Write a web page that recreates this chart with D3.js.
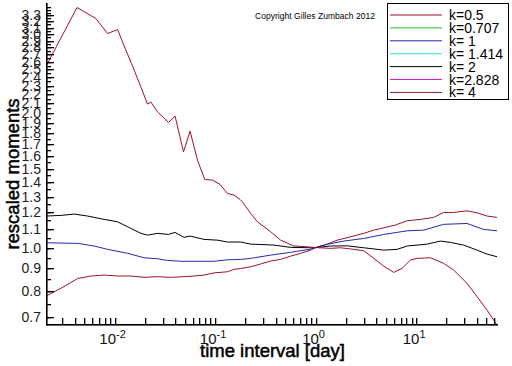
<!DOCTYPE html>
<html><head><meta charset="utf-8">
<script src="https://cdn.jsdelivr.net/npm/d3@7"></script>
<style>
body{margin:0;background:#fff;}
svg{display:block;font-family:"Liberation Sans",Arial,sans-serif;}
</style></head>
<body>
<script>
// ---- data ----
const legendLabels = ["k=0.5","k=0.707","k= 1","k= 1.414","k= 2","k=2.828","k= 4"];
const legendColors = ["#a0102e","#20c020","#2828b0","#30e0e0","#000000","#d020d0","#a0102e"];

const t_k05 = [0.00208,0.00293,0.0043,0.00582,0.00789,0.0107,0.0145,0.0197,0.0268,0.0363,0.0492,0.0618,0.0777,0.0977,0.1327,0.1543,0.18,0.226,0.284,0.357,0.449,0.565,0.71,0.892,1,1.307,1.643,2.227,3.018,3.795,4.77,6.23,8.15,11.04,14.96,18.8,23.6,32.1,40.4,50.8,63.8];
const v_k05 = [0.779,0.811,0.853,0.864,0.868,0.864,0.864,0.858,0.861,0.858,0.861,0.864,0.868,0.878,0.883,0.894,0.898,0.906,0.919,0.933,0.941,0.957,0.971,0.987,1.0,1.018,1.039,1.057,1.076,1.094,1.107,1.123,1.148,1.156,1.168,1.198,1.198,1.208,1.196,1.176,1.168];

const t_k1 = [0.00208,0.0043,0.00628,0.00853,0.01348,0.0197,0.0268,0.03365,0.0456,0.0618,0.0977,0.1327,0.18,0.226,0.357,0.565,0.892,1,1.307,1.91,3.018,4.77,8.15,11.9,18.8,32.1,46.9,63.8];
const v_k1 = [1.025,1.022,1.008,0.991,0.971,0.949,0.944,0.936,0.932,0.932,0.932,0.939,0.941,0.946,0.962,0.976,0.992,1.0,1.017,1.034,1.048,1.070,1.090,1.094,1.127,1.132,1.098,1.090];

const t_k2 = [0.00208,0.00293,0.00397,0.0054,0.00789,0.0107,0.0145,0.01827,0.02129,0.0268,0.0344,0.04,0.0492,0.0564,0.0777,0.1056,0.1327,0.18,0.226,0.385,0.565,0.892,1,1.41,2.065,3.018,4.77,6.48,8.15,12.87,17.45,21.93,29.7,40.4,50.8,63.8];
const v_k2 = [1.176,1.180,1.188,1.176,1.156,1.142,1.104,1.076,1.066,1.076,1.070,1.081,1.054,1.061,1.043,1.039,1.029,1.029,1.018,1.013,1.001,0.999,1.0,1.008,1.009,0.999,0.987,0.991,1.008,1.018,1.034,1.027,1.013,0.987,0.967,0.954];

const t_k4 = [0.00208,0.00423,0.00653,0.00853,0.01072,0.01297,0.01476,0.01827,0.02129,0.02296,0.02679,0.03443,0.04,0.04853,0.05637,0.06683,0.0789,0.0942,0.112,0.1327,0.1543,0.177,0.187,0.2262,0.2636,0.3573,0.449,0.6087,0.827,1,1.41,1.771,2.402,3.018,3.795,4.77,5.99,7.26,8.78,10.24,13.87,18.8,23.6,32.1,40.4,50.8,63.8];
const v_k4 = [2.541,3.437,3.248,3.007,3.069,2.760,2.577,2.285,2.091,2.115,2.010,1.903,1.966,1.636,1.820,1.568,1.420,1.415,1.384,1.321,1.310,1.281,1.265,1.192,1.142,1.085,1.039,1.008,1.004,1.0,0.996,0.999,0.991,0.984,0.946,0.909,0.880,0.899,0.938,0.946,0.949,0.922,0.891,0.832,0.777,0.725,0.671];

const plotted = [
  {t:t_k05, v:v_k05, color:legendColors[0]},
  {t:t_k1,  v:v_k1,  color:legendColors[2]},
  {t:t_k2,  v:v_k2,  color:legendColors[4]},
  {t:t_k4,  v:v_k4,  color:legendColors[6]}
];

const yTickValues = d3.range(7, 34).map(d => d / 10);
const yMinorValues = d3.range(14, 70).map(d => d / 20);
const xDecades = [-2, -1, 0, 1];

// ---- layout ----
const W = 512, H = 366;
const L = 46, R = 497, T = 4, B = 324;

const x = d3.scaleLog().domain([0.00208, 63.8]).range([L, R]);
const y = d3.scaleLog().domain([0.675, 3.5]).range([B, T]);

const svg = d3.select("body").append("svg").attr("width", W).attr("height", H);

// lines
const line = d3.line().x(d => x(d[0])).y(d => y(d[1]));
svg.append("clipPath").attr("id", "plotclip").append("rect")
  .attr("x", L).attr("y", 0).attr("width", R - L + 1).attr("height", B + 1);
const g = svg.append("g").attr("clip-path", "url(#plotclip)");
plotted.forEach(s => {
  g.append("path")
    .datum(s.t.map((tt, i) => [tt, s.v[i]]))
    .attr("d", line)
    .attr("fill", "none")
    .attr("stroke", s.color)
    .attr("stroke-width", 1);
});

// tick marks (pointing inward)
const xMinor = [];
for (let e = -3; e <= 1; e++) for (let m = 1; m <= 9; m++) {
  const v = m * Math.pow(10, e);
  if (v > 0.0021 && v <= 63.8) xMinor.push(v);
}
const tk = svg.append("g");
xMinor.forEach(d => {
  const px = Math.round(x(d));
  tk.append("rect").attr("x", px).attr("y", B - 6).attr("width", 1.3).attr("height", 6).attr("fill", "#000");
});
yMinorValues.forEach(d => {
  const py = Math.round(y(d));
  tk.append("rect").attr("x", L).attr("y", py).attr("width", 5).attr("height", 1.3).attr("fill", "#000");
});
yTickValues.forEach(d => {
  const py = Math.round(y(d));
  tk.append("rect").attr("x", L).attr("y", py).attr("width", 8).attr("height", 1.3).attr("fill", "#000");
});

// axis lines
svg.append("rect").attr("x", L).attr("y", T - 1).attr("width", 1.6).attr("height", B - T + 2.5).attr("fill", "#000");
svg.append("rect").attr("x", L).attr("y", B).attr("width", R - L + 1).attr("height", 1.6).attr("fill", "#000");

// x tick labels 10^n
xDecades.forEach(e => {
  const tx = svg.append("text")
    .attr("x", x(Math.pow(10, e)) - 2)
    .attr("y", 344)
    .attr("text-anchor", "middle")
    .attr("font-size", 15)
    .attr("fill", "#111");
  tx.append("tspan").text("10");
  tx.append("tspan").attr("dy", -6).attr("font-size", 11).text(e < 0 ? "-" + (-e) : String(e));
});

// y tick labels
svg.append("g").selectAll("text").data(yTickValues).join("text")
  .attr("x", 41).attr("y", d => y(d) + 5)
  .attr("text-anchor", "end")
  .attr("font-size", 14)
  .attr("fill", "#222")
  .text(d => d.toFixed(1));

// axis titles
svg.append("text")
  .attr("x", (L + R) / 2 + 1).attr("y", 357)
  .attr("text-anchor", "middle")
  .attr("font-size", 18.5)
  .attr("fill", "#000").attr("stroke", "#000").attr("stroke-width", 0.5)
  .text("time interval [day]");
svg.append("text")
  .attr("transform", "translate(19,174) rotate(-90)")
  .attr("text-anchor", "middle")
  .attr("font-size", 18.5)
  .attr("fill", "#000").attr("stroke", "#000").attr("stroke-width", 0.5)
  .text("rescaled moments");

// copyright
svg.append("text")
  .attr("x", 255).attr("y", 19)
  .attr("font-size", 8.5)
  .attr("fill", "#000")
  .attr("textLength", 120)
  .text("Copyright Gilles Zumbach 2012");

// legend
const lg = svg.append("g");
lg.append("rect").attr("x", 387.5).attr("y", 3.5).attr("width", 121).attr("height", 96)
  .attr("fill", "#fff").attr("stroke", "#000").attr("stroke-width", 1);
legendLabels.forEach((lab, i) => {
  const yy = 15 + i * 12.9;
  lg.append("line").attr("x1", 390).attr("x2", 442).attr("y1", yy).attr("y2", yy)
    .attr("stroke", legendColors[i]).attr("stroke-width", 1);
  lg.append("text").attr("x", 449).attr("y", yy + 5)
    .attr("font-size", 14).attr("fill", "#000").text(lab);
});
</script>
</body></html>
